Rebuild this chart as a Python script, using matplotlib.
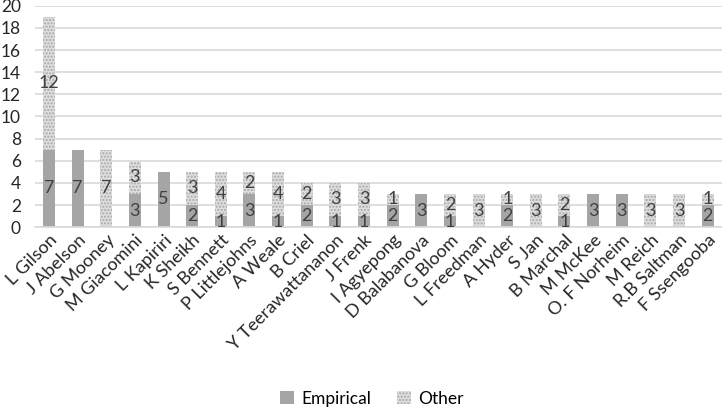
import numpy as np
import matplotlib.pyplot as plt
from matplotlib.patches import Patch

plt.rcParams["font.family"] = ["Lato", "DejaVu Sans"]
plt.rcParams["hatch.linewidth"] = 1.0

# Author counts, split by paper type
authors = ["L Gilson", "J Abelson", "G Mooney", "M Giacomini", "L Kapiriri",
           "K Sheikh", "S Bennett", "P Littlejohns", "A Weale", "B Criel",
           "Y Teerawattananon", "J Frenk", "I Agyepong", "D Balabanova",
           "G Bloom", "L Freedman", "A Hyder", "S Jan", "B Marchal",
           "M McKee", "O. F Norheim", "M Reich", "R.B Saltman", "F Ssengooba"]
empirical = [7, 7, 0, 3, 5, 2, 1, 3, 1, 2, 1, 1, 2, 3, 1, 0, 2, 0, 1, 3, 3, 0, 0, 2]
other     = [12, 0, 7, 3, 0, 3, 4, 2, 4, 2, 3, 3, 1, 0, 2, 3, 1, 3, 2, 0, 0, 3, 3, 1]

x = np.arange(len(authors))
emp = np.array(empirical)
oth = np.array(other)

fig = plt.figure(figsize=(7.22, 4.16), dpi=100)
ax = fig.add_axes([0.048, 0.454, 0.952, 0.532])

dark = "#a5a5a5"
lab_col = "#404040"
hatch = "....."
light = "#dedede"
b1 = ax.bar(x, emp, width=0.42, color=dark, zorder=2)
b2 = ax.bar(x, oth, width=0.42, bottom=emp, facecolor=light,
            edgecolor="#a8a8a8", hatch=hatch, linewidth=0, zorder=2)

for xi, e, o in zip(x, emp, oth):
    if e > 0:
        ax.text(xi, e / 2, str(e), ha="center", va="center",
                fontsize=13, color=lab_col, zorder=3)
    if o > 0:
        ax.text(xi, e + o / 2, str(o), ha="center", va="center",
                fontsize=13, color=lab_col, zorder=3)

ax.set_xlim(-0.5, len(authors) - 0.5)
ax.set_ylim(0, 20)
ax.set_yticks(range(0, 21, 2))
ax.yaxis.grid(True, color="#d9d9d9", linewidth=1.2, zorder=0)
ax.set_axisbelow(True)
for s in ["top", "right", "left"]:
    ax.spines[s].set_visible(False)
ax.spines["bottom"].set_color("#d9d9d9")
ax.spines["bottom"].set_linewidth(1.2)
ax.tick_params(axis="both", length=0, labelsize=12.5, colors="#262626")
ax.tick_params(axis="y", pad=10)
ax.set_xticks(x)
ax.set_xticklabels(authors, rotation=45, ha="right", rotation_mode="anchor",
                   fontsize=13)

handles = [Patch(facecolor=dark, label="Empirical"),
           Patch(facecolor=light, edgecolor="#a8a8a8", hatch=hatch,
                 linewidth=0, label="Other")]
fig.legend(handles=handles, loc="lower center", ncol=2, frameon=False,
           fontsize=12.5, bbox_to_anchor=(0.515, -0.015), handlelength=0.8,
           handleheight=0.8, handletextpad=0.4, columnspacing=1.5)

fig.savefig("out.png", dpi=100)
